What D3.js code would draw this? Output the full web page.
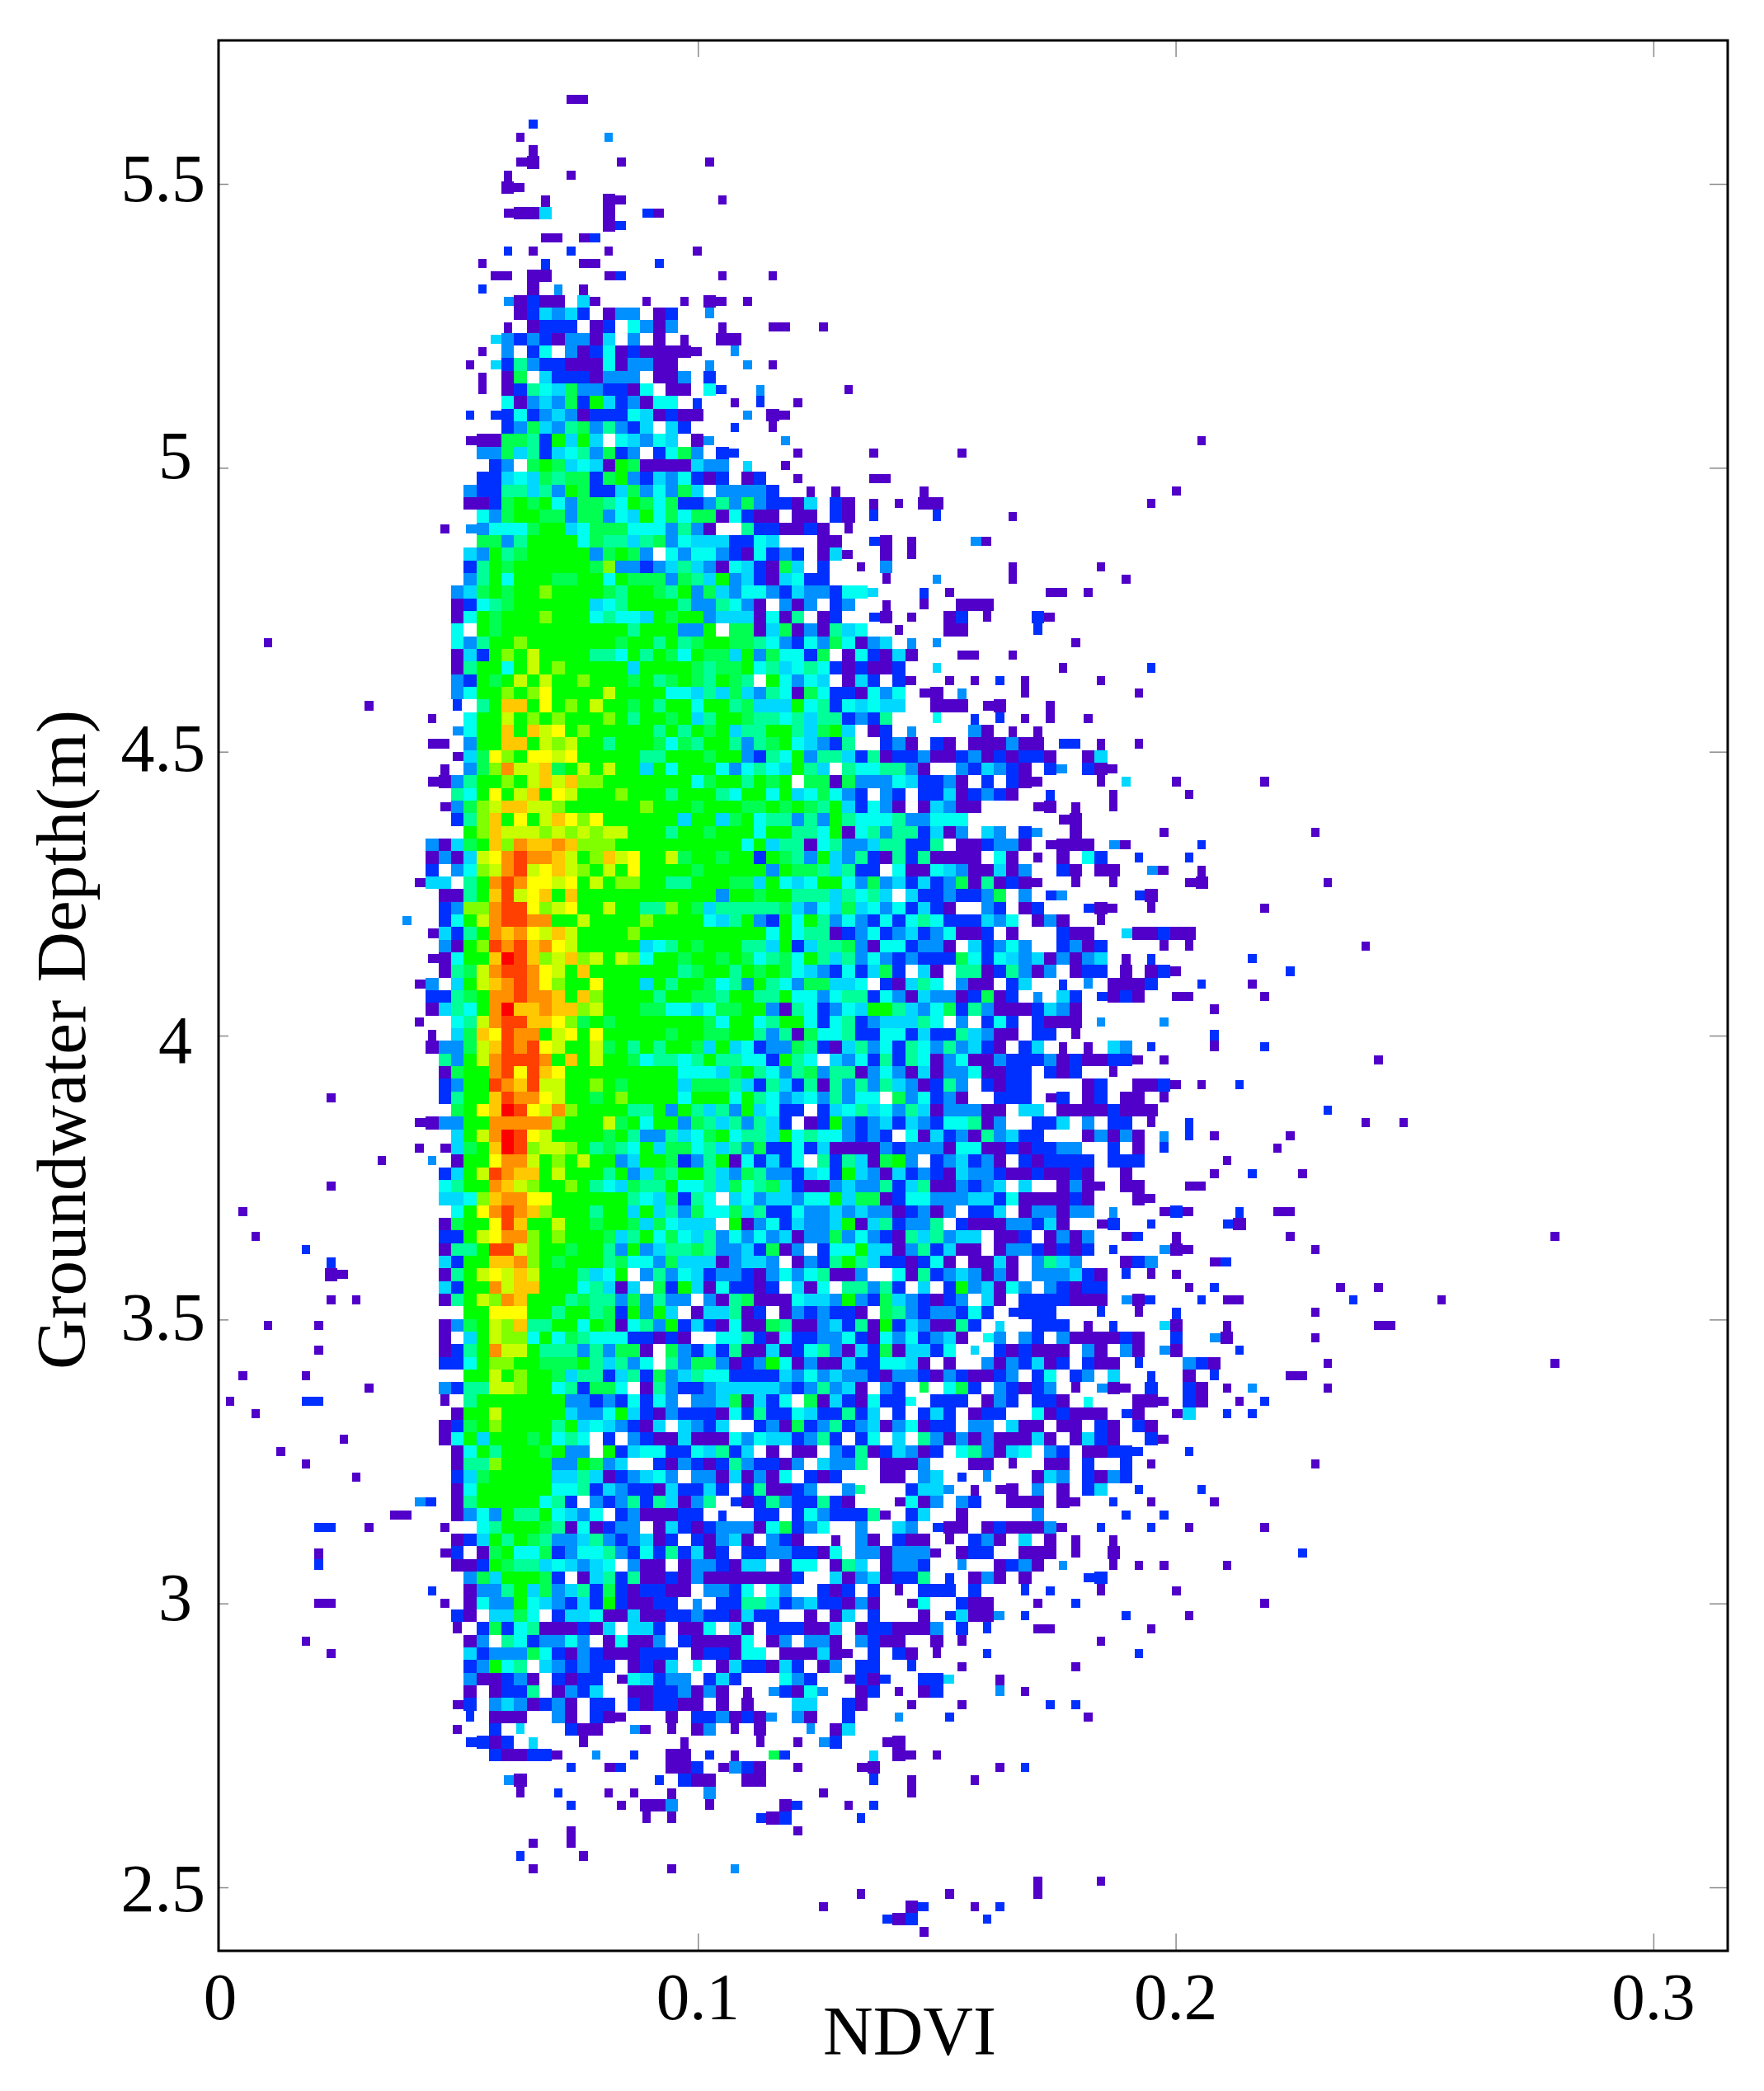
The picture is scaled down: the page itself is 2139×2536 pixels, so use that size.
<!doctype html>
<html>
<head>
  <meta charset="utf-8">
  <title>NDVI vs Groundwater Depth</title>
  <style>
    body { margin: 0; background: #fff; }
    text { font-family: "Liberation Serif", serif; fill: #000; }
  </style>
</head>
<body>
  <div id="vis"></div>

  <script src="https://cdn.jsdelivr.net/npm/d3@7/dist/d3.min.js"></script>
  <script>

    var xTickValues = [0, 0.1, 0.2, 0.3];
    var xTickLabels = ["0", "0.1", "0.2", "0.3"];
    var yTickValues = [2.5, 3, 3.5, 4, 4.5, 5, 5.5];
    var yTickLabels = ["2.5", "3", "3.5", "4", "4.5", "5", "5.5"];

    // bins of the density grid
    var ndviFirstBin = 0.00079;
    var ndviBinWidth = 0.002641;
    var depthFirstBin = 2.3882;
    var depthBinHeight = 0.02226;
    var topRowIndex = 146;

    // density level 1-15 (hex digit), one string per depth bin from the top.
    // groups of ten NDVI bins, the first group starts at bin 10. "." is empty
    var cellRows = [
      "- .......11.",
      "",
      "- ....2",
      "- ...1 3",
      "- ....1",
      "- ...11 .1......1.",
      "- ..1....1",
      "- ..11",
      "- .....1 11.......1",
      "- ..1114 1..21",
      "- - 12",
      "- .....11.12",
      "- ..2.1..2 1......1",
      "- 1....2..11 ....2",
      "- .11.11 12.......1 ...1",
      "- 2...1.3.1.",
      "- ..31211.41 ...1..1.11 .1",
      "- ...124342. 133.12..3.",
      "- ..1.1222.1 2.5313...1 ...11..1",
      "- .432321331 4.3.1.1..1 1",
      "- 1.3.25.312 51211111.. 3",
      ".........1 .426322111 513311..3. .3.1",
      "- 1.17.42221 333.113.2.",
      "- 1.12654733 2215.11.52 ..3......1",
      "- ..51343728 423155.2.. 1.2..1",
      ".........2 .225234312 22541211.. .3.11",
      "- ..23743673 6324.42... 2..1",
      ".........1 1177628484 .54354.13. ....3 - - .......1",
      "- 3374624563 723.2573.2 2....1 .1......1",
      "- .23.787454 1871111433 .4..1",
      "- 2245476772 7832435212 .12..1 .11",
      ".........3 2266463872 24735374.3 3332..1.1. .....1 - .....1",
      ".........1 1278785377 6587572236 3732214.21 .1.1.11 - ...1",
      "- 5378877377 3548575771 5211.11.21 .2....2 ..1",
      ".......1.3 3555788457 775553631. .6221121.1",
      "- 7736888857 6646735444 2254...11. .21.1....3 1",
      ".........4 3867888883 7873.53553 215232.141 ..1.1",
      ".........2 6878888887 9332346431 542174.2 1.3 ..1......1",
      ".........3 6858887788 5877737648 34214522 ..1...3 ..1 .1",
      "........34 7878898888 7688768374 3553243325 54...2.1 .....11.1.",
      "........12 5678888884 5688886336 531.313.23 ..1..1..11 1",
      "........15 8788898885 6554878834 441516.12. .21.1..12. 1...21",
      "........5. 8788888888 886888338. 7714713164 5..1...11. ....2",
      "........53 6889888888 8788686788 7765325375 134.3.3 .......1",
      "........14 2898a88886 6586875877 48375527.1 52141...11 ..1",
      "........16 8858a89888 8848888767 7856456521 2112..4 ......1 ...2",
      "........32 878a8a8898 8878678768 76.85354.1 42.21..1.1 .2.1.....1",
      "........35 88989b8888 a888855464 7436517522 1535.11.3 ...1 ..1",
      ".1......2. 68cc8b898a 8878688588 6744485625 4544..111. 11...1....",
      "......1..5 88a8989888 9868878468 8766564662 326...5..2 .2.1.1..1.",
      "........35 88c8cab898 8888686878 4668864784 .12.3....3 1.1.1",
      "......11.3 88cc8a9a88 6888757688 6367854326 ..231.21.1 11311.22.1 ..1",
      "........14 7b98bbab88 8886688878 8326583664 2612231123 121221..14",
      ".......1.3 79daac78a8 a884858885 35654864.6 556631..32 4321.23.21 1",
      "......1136 8898acac99 8888888578 86878.7717 333542231. 2.211....1 .4...1.... ..1",
      "........65 8b8ac8ba88 8988868886 5885845753 2.32.22412 321..2.... 1.....1",
      ".......137 9accaa9888 8889888788 8778787684 2531.14311 ....11.1.. 1",
      "........26 9c8b8acb9b 8888884884 7856636386 555633555. ......11",
      ".........8 9caaa9a9a9 aa88868878 8858866581 563662413. 43.23..1.. ....1 ......1",
      "......3147 8c9dccdc99 9888888888 8584661563 3466226.11 2331.1111. 31.....2",
      "......1314 abdeddca89 cab88a7887 8828763843 6216261111 .51.1.1.52 ..2...2",
      "......2.35 9adeabca98 a8b8888788 8883877646 22.5115431 1413..21.1 1..31..1",
      ".....144.6 8dedbbab8a 8998866888 7748545885 3734242371 61211..1.. 1.....11 .......1",
      ".......116 8ceabc8c88 8888888883 8878866646 564.422322 37.3.23... ..21",
      ".......239 9deeb9ab88 a886698746 6666743547 45352421.. 32.12...21 1..1 ..1",
      "....3..258 adeedd88a8 8889888854 6832858635 3252565222 435.131..1",
      "......1426 8dcdbaca88 8898888888 8885856612 3523423511 2.1...211. .411211",
      ".......318 9edecdba88 8884568788 8664824667 31552331.4 2353..2312 ....1.1 - 1",
      "......1158 8cfec9ac9a 8a95887887 8756758646 3532322275 2543413134 .1.2 .2",
      ".......167 adeedba8c8 8888886788 6878754325 2472.41.66 126313.122 .1.121 ....2",
      ".....13.48 acdedb988b 8884868875 6386537744 5.21465.31 1.24..2.3. 1112...2 .1",
      "......2267 8ddeddc8c9 8888688776 8866855356 6253143312 712.3.42.2 121..11 ..1",
      "......1465 8dfccdcc9a 8887755457 7883165235 4886435726 31112431.. ........1",
      ".....1..56 adeeccb978 7888888875 8856885256 2344465.3. 252.2111.3 ....3",
      "......1.47 cbedd8ab8b 8888878877 8863617556 2255242264 311.22.1.. ........2",
      "......1337 acedeba88a 7868688748 4523376214 6352653634 21.24.1.1. 43.2....1. ..2",
      ".......638 adeeed8c8a 8875665686 6552865.43 5262651351 1322231211 221.1 - .1",
      ".......178 8debecb888 8888885554 7865367366 1353141335 1122.212.. 1",
      ".......238 8edceaa889 8788884777 6426426163 636431263. 2122....12 ..1121.1 2",
      ".......268 8ceddba887 8988885888 5865345363 55.735231. .222.12.12 .11.1",
      "........78 bcfebad988 8866838646 384522.245 6453641333 11.44.1111 2111 .......2",
      ".....11338 8ddddd9888 a785883764 63642.1283 2342432556 13..224.3. 22.1..2 - 1..1",
      "........48 adfeba8888 7863364578 5664856553 232.514231 63422...13 131.3.2.1 ....1",
      ".....1.147 8cfe9aa986 7658477564 6372252411 1132333155 11212233.. 2.1.2 ...1",
      "..1...3.18 8bdda898a8 8348872368 152425.626 41783.2342 31.212222. 222......1",
      ".......248 aedcc8a888 6834768864 3763324528 4314232143 321121121. .1......1 .2...1",
      ".......568 8dca988986 5476685564 7567421134 3362461132 34.4..1311 .11...11",
      ".......445 9cddbb8888 886547265. 4534435584 7712553334 425111121. ..11",
      "........58 bdedc98886 8848463755 7462253343 43312313.2 24.133133. 3...121 2..11",
      ".......178 8bec88a887 887475444. 8135243348 1462336.21 1133241..1 2..2.....2 1",
      ".......228 abdd989888 7468575463 5353413373 5321646344 .112.1313. .12..1 ....1 - .....1",
      ".......166 8eea988788 6383466763 342713.255 8441362411 .13321212. 2...311 ......1",
      ".......428 8ccd987888 6755374441 3443.13268 64221251.1 141.3643.. .123....12",
      ".......168 abaca88864 58.3635423 3213535611 3..5162343 131.333421 .2.1.1",
      ".......428 8dacc88856 414.728415 2212.415.6 6362.4.283 4153.32122 ......1.2. ........1. .1",
      "1......168 a9dc888676 6373633.31 6711154438 327432123. 41.2222111 .312...2.1 1........2 ......1",
      ".........8 8bbb886886 728384.144 612.132322 1.76323325 2.2222...2 ..1..2 ......1",
      ".......137 8a9c668858 7156382421 5117611342 6182431162 .4..222.1. 2...41...1 - .11",
      ".......1.4 8a99585765 5522121..5 5621522335 215352341. 53.32.3111 121..2..31 ......1",
      ".......126 8daa866636 3771.73242 6114125631 42714425.4 .212111.31 .31.31 2",
      ".......225 8998877786 4635.63773 1238513114 225541.1.. 3132412.21 1.2...321. .......1.. - .....1",
      ".........8 8a89887466 2462734655 2222435343 3213321321 123.25.23. 4..2..1.2. ....11",
      ".1.....326 6aa9885627 75.1632234 4444323634 1.32.7.572 .32123.1.3 11.2..21.1 .3.....1",
      ".......1.6 8888888332 325253.334 71425.7142 15225.222. 132.221.5. ..111.21 1.2",
      "........18 8a88888433 5842132221 5262254226 24.2.242.1 22..512111 .21..14..2 .2",
      ".......127 8988886845 43214.4324 ..23172362 34135122.3 3.411.11.2 1.21",
      ".......158 488878565. 2.32114111 535442362. 25.4.63131 311141.142 1..21",
      "........15 868887833. 8245522546 24.1.11.32 6124312.56 3145.32.11 222...2",
      "........16 6988883387 34..213212 632213.433 6.1113...1 1.1..11.2. .2.1 ......1",
      "1.......24 7888884464 123453.331 41315.212. ..11.34.2. 3...143.21 32",
      "........15 8888885562 4322142242 .261123..3 6...2443.1 .11.3.1.24 ..2....2",
      ".....32.16 88888562.3 236264136. 2126322621 ...1513.32 ..111.11.. 2..1....1",
      "...11...13 5386685435 .2311122.2 ..22.25322 261.24..1. ....3 .2..2",
      ".1.....1.. 5688876151 233.142123 33157235.. 3..43.211. 1211131..2 ...2..1 ..1",
      "........12 4868763346 323412.213 41.321..1. 31.211.1.2 31.4.1.1 1",
      ".......12. 1785572355 6325262412 .22332215. 3313331.12 2..111.1.. 1 .....2",
      "........11 2876645434 5.311.1332 144.155.16 4.1332..3. .1231.3 1.1.1....1",
      ".........3 7488872.14 6261121311 111112..41 341226.2.1 31.1....22",
      "......2..1 3368473462 7212211.33 25.53..212 .2.1.222.2 ...2.2...1 .....1",
      ".......1.1 5338543242 821122.3.2 2664234221 31..15..21 1...1..2 - ..1",
      "........21 .4475.2445 1141122322 1422..1.14 .2...1.241 13.2 .2....1",
      "........1. 2725611121 4.442.115. 41.222114. 1221113.2. 2...11 ...1",
      ".........1 3.6523353. 15113.2111 15.13.331. 3211..1.1 .........1",
      ".........4 2333752132 111222.122 155.111411 .2.21.1 2 ..2",
      ".........2 3856.43232 2.1214.5.1 422142.13. 22..2...1 .......1",
      ".........3 11231.2122 .154233.24 2...532..1 212..224.. .1",
      ".........1 .1226.1324 ..11223131 .1.32153.. 12.1.12 .3.1",
      "........12 .3431231.2 2.212211.1 .1...44..2 1...1...1. .....2.2",
      ".........2 .111..31.2 11...1.223 1213.31..2 ...3...2 ........1",
      "........1. .2.4...211 ..31.1.13. 1.1...3.14",
      ".........2 212.4...1. ......1... ..1..1.32. ..11",
      "- .211221..3 ..2..11.2. 1..72 .4.11.1",
      "- .......2.. 12...112.1 321..1 11 .1.2",
      "- ..31...... ....2.211. .11 .2..1....1",
      "- ...1..2... 1.1..1..3. .......1.. ....1",
      "- .......2.. .1.113..1. ....12...1 .2",
      "- - ...1.1.... ..212 2",
      "- .......1.. - .....1",
      "- ....1..1",
      "- ...2....1",
      "- ....1 .....1 3",
      "- - - - - ....1....1",
      "- - - - 1......1 ....1",
      "- - - .......1 ....12...1 .2",
      "- - - - ..212 2",
      "- - - - .....1"
    ];

    // stray cells left of bin 10: [ndvi bin, row from top, level]
    var farLeftCells = [
      [3, 43, 1], [8, 79, 1], [8, 86, 1], [1, 88, 1], [2, 90, 1], [6, 91, 2],
      [8, 92, 2], [8, 93, 1], [9, 93, 1], [8, 95, 1], [3, 97, 1], [7, 97, 1],
      [7, 99, 1], [1, 101, 1], [6, 101, 1], [0, 103, 1], [6, 103, 2], [7, 103, 2],
      [2, 104, 1], [9, 106, 1], [4, 107, 1], [6, 108, 1], [7, 113, 2], [8, 113, 2],
      [7, 115, 1], [7, 116, 2], [7, 119, 1], [8, 119, 1], [6, 122, 1], [8, 123, 1]
    ];

    var levelValues = d3.range(1, 16);
    var levelColors = ["#5000c8", "#0030ff", "#0090ff", "#00d8ff", "#00fff0",
                       "#00ff98", "#00ff50", "#00ff00", "#80ff00", "#c8ff00",
                       "#ffff00", "#ffc800", "#ff9000", "#ff4000", "#ff0000"];

    var w = 2139, h = 2536;

    var svg = d3.select("#vis")
                .append("svg")
                .attr("width", w)
                .attr("height", h)
                .style("display", "block");

    var xScale = d3.scaleLinear()
                   .domain([-0.000345, 0.31556])
                   .range([265, 2095]);

    var yScale = d3.scaleLinear()
                   .domain([2.3882, 5.7527])
                   .range([2366, 49]);

    var colorScale = d3.scaleOrdinal()
                       .domain(levelValues)
                       .range(levelColors);

    // flatten the rows into cells
    var cells = [];
    var filled = {};

    function addCell(col, row, level) {
      cells.push({col: col, row: row, level: level});
      filled[col + "," + row] = true;
    }

    cellRows.forEach(function(line, row) {
      if (line === "") return;
      line.split(" ").forEach(function(group, g) {
        group.split("").forEach(function(ch, i) {
          var level = parseInt(ch, 16);
          if (level > 0) addCell(10 + g * 10 + i, row, level);
        });
      });
    });

    farLeftCells.forEach(function(d) {
      addCell(d[0], d[1], d[2]);
    });

    // lone cells and run ends lose a little to the white background in the scan,
    // cells with more neighbours keep their full size
    var insetX = 2.4, insetY = 2.1;

    function isEmpty(col, row) {
      return !filled[col + "," + row];
    }

    function looseEnd(d) {
      var n = 0;
      if (!isEmpty(d.col - 1, d.row)) n++;
      if (!isEmpty(d.col + 1, d.row)) n++;
      if (!isEmpty(d.col, d.row - 1)) n++;
      if (!isEmpty(d.col, d.row + 1)) n++;
      return n <= 1;
    }

    function cellLeft(d) {
      return xScale(ndviFirstBin + d.col * ndviBinWidth) + (looseEnd(d) && isEmpty(d.col - 1, d.row) ? insetX : 0);
    }
    function cellRight(d) {
      return xScale(ndviFirstBin + (d.col + 1) * ndviBinWidth) - (looseEnd(d) && isEmpty(d.col + 1, d.row) ? insetX : 0);
    }
    function cellTop(d) {
      return yScale(depthFirstBin + (topRowIndex - d.row + 1) * depthBinHeight) + (looseEnd(d) && isEmpty(d.col, d.row - 1) ? insetY : 0);
    }
    function cellBottom(d) {
      return yScale(depthFirstBin + (topRowIndex - d.row) * depthBinHeight) - (looseEnd(d) && isEmpty(d.col, d.row + 1) ? insetY : 0);
    }

    svg.append("g")
       .attr("shape-rendering", "crispEdges")
       .selectAll("rect")
       .data(cells)
       .enter()
       .append("rect")
       .attr("x", cellLeft)
       .attr("y", cellTop)
       .attr("width", function(d) { return cellRight(d) - cellLeft(d); })
       .attr("height", function(d) { return cellBottom(d) - cellTop(d); })
       .attr("fill", function(d) { return colorScale(d.level); });

    // inner ticks on all four sides, no labels
    var xMarks = xTickValues.slice(1);

    function drawTicks(axis, x, y) {
      var g = svg.append("g")
                 .attr("transform", "translate(" + x + "," + y + ")")
                 .call(axis.tickFormat(""));
      g.select(".domain").remove();
      g.selectAll("line").attr("stroke", "#8a8a8a").attr("stroke-width", 1.5);
    }

    drawTicks(d3.axisBottom(xScale).tickValues(xMarks).tickSize(-21), 0, 2366);
    drawTicks(d3.axisTop(xScale).tickValues(xMarks).tickSize(-20), 0, 49);
    drawTicks(d3.axisLeft(yScale).tickValues(yTickValues).tickSize(-12), 265, 0);
    drawTicks(d3.axisRight(yScale).tickValues(yTickValues).tickSize(-22), 2095, 0);

    svg.append("rect")
       .attr("x", 265)
       .attr("y", 49)
       .attr("width", 1830)
       .attr("height", 2317)
       .attr("fill", "none")
       .attr("stroke", "#000")
       .attr("stroke-width", 3);

    // labels sit a bit unevenly in the original
    var yLabelDy = [29, 20, 25, 33, 23, 13, 21];

    svg.selectAll(".ylabel")
       .data(yTickValues)
       .enter()
       .append("text")
       .attr("class", "ylabel")
       .attr("x", function(d) { return d % 1 === 0 ? 233 : 249; })
       .attr("y", function(d, i) { return yScale(d) + yLabelDy[i]; })
       .attr("text-anchor", "end")
       .attr("font-size", 82)
       .text(function(d, i) { return yTickLabels[i]; });

    svg.selectAll(".xlabel")
       .data(xTickValues)
       .enter()
       .append("text")
       .attr("class", "xlabel")
       .attr("x", function(d) { return xScale(d); })
       .attr("y", 2449)
       .attr("text-anchor", "middle")
       .attr("font-size", 81)
       .text(function(d, i) { return xTickLabels[i]; });

    svg.append("text")
       .attr("x", 1103)
       .attr("y", 2492)
       .attr("text-anchor", "middle")
       .attr("font-size", 84)
       .text("NDVI");

    svg.append("text")
       .attr("transform", "translate(103,1261) rotate(-90)")
       .attr("text-anchor", "middle")
       .attr("font-size", 85)
       .text("Groundwater Depth(m)");
  </script>
</body>
</html>
